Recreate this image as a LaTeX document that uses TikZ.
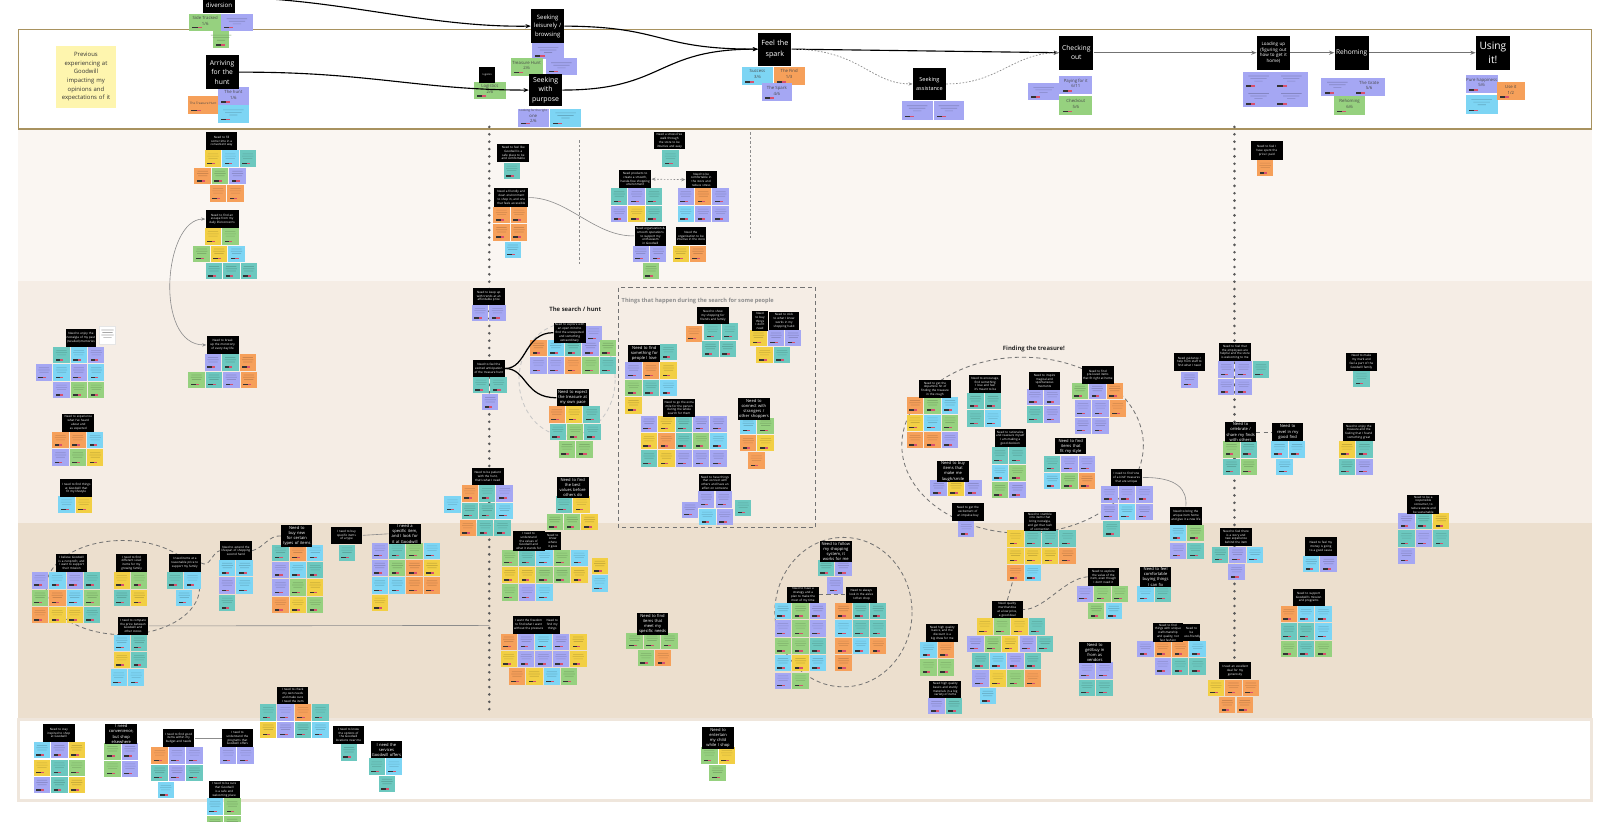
\documentclass[tikz,border=0pt]{standalone}
\usepackage{fontspec}
\setmainfont{Open Sans}
\usetikzlibrary{arrows.meta}
\pgfdeclarelayer{bg}
\pgfsetlayers{bg,main}
\definecolor{sO}{HTML}{F6A05A}
\definecolor{sY}{HTML}{F2CF44}
\definecolor{sG}{HTML}{96D17F}
\definecolor{sT}{HTML}{6CC8BF}
\definecolor{sB}{HTML}{7DD5F4}
\definecolor{sP}{HTML}{A5A7F3}
\definecolor{noteY}{HTML}{FEF5AE}
\definecolor{bandA}{HTML}{FAF6F2}
\definecolor{bandB}{HTML}{F5EDE5}
\definecolor{bandC}{HTML}{ECDFCE}
\definecolor{frameC}{HTML}{A8925F}
\definecolor{edgeC}{HTML}{EFE6DC}
\definecolor{tagR}{HTML}{D9506E}
% small sticky: x y colour-letter
\newcommand\stk[3]{%
  \fill[fill=s#3] (#1,#2) rectangle ++(16,16);
  \fill[fill=s#3!84!black] (#1+3,#2+3) rectangle ++(10,0.6) (#1+2.5,#2+5.2) rectangle ++(11,0.6) (#1+3.5,#2+7.4) rectangle ++(9,0.6);
  \fill[black!80] (#1+2.5,#2+12) rectangle ++(4.5,1.5);
  \fill[tagR] (#1+7,#2+12) rectangle ++(3,1.5);}
\newcommand\srow[3]{\foreach \scol [count=\sidx from 0] in {#3}{\stk{#1+17*\sidx}{#2}{\scol}}}
% black header box: [opts] name x1 y1 x2 y2 text
\newcommand\hbx[7][]{%
  \pgfmathsetmacro\hbw{(#5-#3)*0.5}%
  \pgfmathsetmacro\hbh{(#6-#4)*0.5}%
  \pgfmathsetmacro\hbt{(#5-#3)*0.5-1}%
  \node[hdr,minimum width=\hbw pt,minimum height=\hbh pt,text width=\hbt pt,#1] (#2) at ({(#3+#5)/2},{(#4+#6)/2}) {#7};}
% top sticky with label: name x1 y1 x2 y2 colour text
\newcommand\tst[7]{%
  \fill[fill=s#6] (#2,#3) rectangle (#4,#5);
  \fill[black!80] (#2+3,#5-4) rectangle ++(5,1.6);
  \fill[tagR] (#2+8,#5-4) rectangle ++(4,1.6);
  \node[tnote] (#1) at ({(#2+#4)/2},{(#3+#5)/2-1.5}) {#7};}
% top sticky with unreadable text
\newcommand\tsim[5]{%
  \fill[fill=s#5] (#1,#2) rectangle (#3,#4);
  \fill[fill=s#5!80!black] ({(#1+#3)/2-10},#2+4) rectangle ++(20,0.6) ({(#1+#3)/2-8},#2+6.5) rectangle ++(16,0.6) ({(#1+#3)/2-4},#2+9) rectangle ++(8,0.6);
  \fill[black!80] (#1+3,#4-4) rectangle ++(5,1.6);
  \fill[tagR] (#1+8,#4-4) rectangle ++(4,1.6);}
\begin{document}
\hyphenpenalty=10000
\exhyphenpenalty=10000
\begin{tikzpicture}[x=0.5pt,y=-0.5pt,
  hdr/.style={fill=black,text=white,inner sep=0.5pt,align=center,font=\fontsize{1.45}{1.85}\selectfont},
  hdrL/.style={font=\fontsize{2}{2.5}\selectfont},
  tnote/.style={inner sep=0pt,align=center,text=black!72,font=\fontsize{2.1}{2.8}\selectfont},
  conn/.style={draw=black,line width=0.55pt,-{Stealth[length=2.6pt,width=2pt]}},
  gconn/.style={draw=black!55,line width=0.7pt,-{Stealth[length=2.6pt,width=2pt]}},
  dotc/.style={draw=black!45,line width=0.35pt,dash pattern=on 0.8pt off 0.8pt,-{Stealth[length=2pt,width=1.6pt]}},
  fine/.style={draw=black!45,line width=0.3pt},
  dsh/.style={draw=black!55,line width=0.4pt,dash pattern=on 2pt off 1.5pt},
  bigdots/.style={draw=black!65,line width=1.4pt,line cap=round,dash pattern=on 0pt off 3.6pt},
]
\useasboundingbox (0,0) rectangle (1568,803);
\begin{pgfonlayer}{bg}
\fill[white] (0,0) rectangle (1568,803);
\fill[bandA] (18,126) rectangle (1555,275);
\fill[bandB] (18,275) rectangle (1555,511);
\fill[bandC] (18,511) rectangle (1555,703);
\draw[edgeC,line width=1.2pt] (18,703) rectangle (1555,782);
\draw[frameC,line width=0.6pt,fill=white] (18,29) rectangle (1555,126);
\draw[dsh] (999,435) ellipse [x radius=118,y radius=86];
\draw[dsh] (824,598) ellipse [x radius=67,y radius=73];
\draw[dsh] (120,574) ellipse [x radius=75,y radius=46];
\draw[dsh,draw=black!22] (554,371) ellipse [x radius=47,y radius=55];
\draw[dsh] (604,281) rectangle (797,515);
\draw[fine,dash pattern=on 1.2pt off 1pt] (566,137) -- (566,259);
\draw[fine,dash pattern=on 1.2pt off 1pt] (733,129) -- (733,233);
\draw[bigdots] (478,124) -- (478,697);
\draw[bigdots] (1206,124) -- (1206,645);
\end{pgfonlayer}

% ---------------- journey row ----------------
\node[fill=noteY,minimum width=29.5pt,minimum height=30.5pt,text width=28.5pt,inner sep=0.5pt,align=center,text=black!80,font=\fontsize{2.9}{4.2}\selectfont] (prev) at (84,75) {Previous\\experiencing at\\Goodwill\\impacting my\\opinions and\\expectations of it};

\tst{ta}{185}{14}{216}{30}{G}{Side Tracked\\1/6}
\tsim{216}{14}{247}{30}{P}
\tsim{208}{30}{224}{47}{G}
\hbx[font=\fontsize{3}{4}\selectfont]{div}{198}{-2}{230}{12.5}{diversion}

\tst{tb}{184}{94}{213}{111}{O}{\fontsize{1.5}{2}\selectfont The Treasure Hunt}
\tst{tc}{213}{85}{243}{103}{P}{The hunt\\1/6}
\tsim{213}{103}{243}{120}{B}
\hbx[font=\fontsize{3.3}{4.6}\selectfont]{arr}{201}{54}{233}{87}{Arriving\\for the\\hunt}

\tst{td}{463}{80}{494}{97}{G}{Logistics\\2/6}
\hbx[font=\fontsize{1.2}{1.5}\selectfont]{lgs}{468}{65}{484}{81}{logistics}

\tsim{520}{42}{551}{58}{P}
\tst{te}{499}{57}{530}{74}{G}{Treasure Hunt\\2/6}
\tsim{533}{57}{564}{73}{P}
\hbx[font=\fontsize{2.9}{4.1}\selectfont]{lei}{519}{9}{551}{42}{Seeking\\leisurely /\\browsing}
\tst{tf}{506}{106}{536}{124}{P}{\fontsize{1.4}{1.9}\selectfont Looking for the right\\one\\2/6}
\tsim{537}{106}{568}{124}{B}
\hbx[font=\fontsize{3.4}{4.6}\selectfont]{pur}{517}{72}{549}{104}{Seeking\\with\\purpose}

\tst{tg}{725}{65}{755}{83}{B}{Success\\3/6}
\tst{th}{756}{65}{786}{83}{O}{The Find\\1/3}
\tst{ti}{744}{81}{774}{99}{P}{The Spark\\4/6}
\hbx[font=\fontsize{3.5}{4.9}\selectfont]{spk}{741}{32}{773}{64}{Feel the\\spark}

\tsim{881}{99}{911}{117}{P}
\tsim{912}{99}{942}{117}{P}
\hbx[font=\fontsize{2.7}{4}\selectfont]{ast}{892}{66}{924}{98}{Seeking\\assistance}

\tsim{1004}{81}{1035}{98}{P}
\tst{tj}{1035}{74}{1067}{92}{P}{Paying for it\\6/11}
\tst{tk}{1035}{94}{1067}{112}{G}{Checkout\\5/6}
\hbx[font=\fontsize{3.3}{4.4}\selectfont]{chk}{1035}{35}{1068}{68}{Checking\\out}

\tsim{1214}{70}{1245}{87}{P}
\tsim{1245}{70}{1278}{87}{P}
\tsim{1214}{87}{1245}{105}{P}
\tsim{1245}{87}{1278}{105}{P}
\hbx[font=\fontsize{2.2}{2.65}\selectfont]{lod}{1228}{35}{1260}{68}{Loading up\\(figuring out\\how to get it\\home)}

\tsim{1291}{76}{1322}{94}{P}
\tst{tl}{1322}{76}{1353}{94}{P}{The Grate\\5/6}
\tst{tm}{1303}{94}{1334}{112}{G}{Rehoming\\6/6}
\hbx[font=\fontsize{3.2}{4}\selectfont]{reh}{1304}{35}{1337}{68}{Rehoming}

\tst{tn}{1432}{73}{1463}{91}{P}{Pure happiness\\5/6}
\tsim{1432}{93}{1463}{111}{B}
\tst{to}{1462}{80}{1490}{98}{O}{Use it\\1/2}
\hbx[font=\fontsize{5}{7}\selectfont]{use}{1442}{35}{1475}{68}{Using\\it!}

\draw[conn] (div.north east) .. controls (330,-1) and (420,27) .. (lei.west);
\draw[conn] (arr.east) .. controls (360,70) and (410,88) .. (pur.west);
\draw[conn] (lei.east) .. controls (650,26) and (640,48) .. (spk.west);
\draw[conn] (pur.east) .. controls (650,88) and (640,48) .. (spk.west);
\draw[conn] (spk.east) -- (chk.west);
\draw[dotc] (spk.east) .. controls (840,48) and (850,82) .. (ast.west);
\draw[dotc] (ast.east) .. controls (975,82) and (990,52) .. (chk.west);
\draw[gconn] (chk.east) -- (lod.west);
\draw[gconn] (lod.east) -- (reh.west);
\draw[gconn] (reh.east) -- (use.west);

% ---------------- band 1 ----------------
\srow{200}{147}{Y,B,T} \srow{190}{164}{O,G,P} \srow{205}{181}{O,O}
\hbx{hA}{201}{129}{232}{147}{Need to fill some time in a convenient way}
\srow{200}{223}{Y,G} \srow{189}{240}{G,Y,B} \srow{201}{257}{T,T,T}
\hbx{hB}{201}{205}{233}{223}{Need to find an escape from my daily life/concerns}
\stk{492}{159}{T}
\hbx{hC}{486}{141}{517}{158}{Need to feel like Goodwill is a safe place to be and comfortable}
\srow{482}{202}{O,O} \srow{482}{219}{O,O} \stk{493}{236}{B}
\hbx{hD}{483}{184}{516}{202}{Need a friendly and clean environment to shop in, and one that feels accessible}
\stk{647}{147}{T}
\hbx{hF}{639}{129}{669}{146}{Need a stress-free walk through the store to be intuitive and easy}
\srow{597}{184}{T,P,T} \srow{597}{201}{P,Y,T}
\hbx{hG}{605}{166}{636}{184}{Need products to create a smooth, hassle-free shopping environment}
\srow{662}{184}{P,O,P} \srow{662}{201}{B,P,P}
\hbx{hH}{670}{167}{700}{184}{Need to be comfortable in the store and reduce stress}
\srow{618}{240}{P,P} \stk{628}{257}{G}
\hbx{hI}{620}{222}{651}{239}{Need organization \& smooth operations to support my enthusiasm in Goodwill}
\srow{657}{240}{Y,O}
\hbx{hJ}{660}{222}{690}{239}{Need the organization to be intuitive in the store}
\stk{1228}{156}{O}
\hbx{hK}{1222}{138}{1253}{156}{Need to feel I have spent the price I paid}

% ---------------- band 2 ----------------
\srow{52}{339}{T,B,P} \srow{35}{356}{P,B,P,B} \srow{52}{373}{P,G,G}
\hbx{hL}{64}{321}{94}{339}{Need to enjoy the nostalgia of my past (recalled) memories}
\node[fill=white,draw=black!10,line width=0.2pt,minimum width=8pt,minimum height=8.5pt,inner sep=0pt] (wn) at (105,327.5) {};
\fill[black!35] (99,322) rectangle ++(12,0.7) (100,324.5) rectangle ++(10,0.7) (99,327) rectangle ++(12,0.7) (101,329.5) rectangle ++(8,0.7);
\srow{200}{346}{P,T,O} \srow{184}{363}{G,T,P,O}
\hbx{hM}{202}{328}{233}{346}{Need to break up the monotony of every day life}
\srow{51}{422}{O,O,B} \srow{51}{439}{P,G,Y}
\hbx{hN}{61}{404}{92}{422}{Need to experience what I've heard about and as expected}
\srow{57}{485}{B,Y}
\hbx{hO}{59}{468}{90}{486}{I need to find things at Goodwill that fit my lifestyle}
\srow{461}{298}{P,P}
\hbx{hP}{462}{281}{493}{298}{Need to keep up with trends at an affordable price}
\srow{462}{368}{T,T} \stk{471}{385}{P}
\hbx{hQ}{462}{352}{493}{368}{Need to feel the excited anticipation of the treasure hunt}
\stk{572}{318}{P} \srow{518}{332}{O,B,T,P,G} \srow{518}{349}{P,P,O,G,T}
\hbx{hR}{541}{316}{572}{334}{Need to explore with an open mind to find the unexpected and something extraordinary}
\srow{536}{397}{O,Y,T} \srow{537}{414}{T,G,T} \srow{546}{431}{G,G}
\hbx[hdrL]{hS}{544}{380}{575}{397}{Need to expect the treasure at my own pace}
\srow{451}{474}{O,T,P} \stk{434}{485}{B} \srow{451}{491}{T,T,B} \srow{449}{508}{O,T,T}
\hbx{hT}{461}{457}{492}{474}{Need to be patient with the hunt, that's what I need}
\srow{543}{485}{T,Y} \srow{534}{502}{G,G,Y}
\hbx[hdrL]{hU}{544}{468}{575}{485}{Need to find the best values before others do}
\stk{670}{318}{O} \srow{688}{316}{T,T} \srow{686}{333}{T,T}
\hbx{hV}{681}{300}{712}{317}{Need to show my shopping for friends and family}
\srow{733}{322}{Y,P,P} \srow{739}{339}{Y,T}
\hbx{hWa}{735}{305}{750}{322}{Need to buy things I don't need}
\hbx{hWb}{751}{305}{781}{322}{Need to stick to what I know works in my shopping habit}
\stk{645}{336}{T} \srow{611}{354}{P,O,Y} \srow{611}{371}{G,T,B} \stk{611}{388}{Y}
\hbx[hdrL]{hX}{614}{337}{645}{354}{Need to find something for people I love}
\srow{626}{406}{P,Y,T,P,P} \srow{626}{423}{Y,O,T,G,B} \srow{626}{440}{T,Y,P,P,P}
\hbx{hY}{648}{390}{679}{407}{Need to go the extra mile for the person during the whole search for them}
\srow{723}{408}{B,G} \srow{723}{425}{O,Y} \stk{731}{442}{O}
\hbx[hdrL]{hZ}{721}{391}{752}{408}{Need to connect with strangers / other shoppers}
\stk{666}{490}{P} \srow{682}{480}{P,P} \stk{718}{488}{T} \srow{683}{497}{B,P}
\hbx{hAA}{683}{463}{714}{480}{Need to have things that connect with others and have an effect on someone}

\srow{886}{388}{O,G,B} \srow{886}{405}{Y,B,G} \srow{886}{422}{O,O,P}
\hbx{hBB}{898}{371}{929}{389}{Need to get the dopamine hit of finding the treasure in the rough}
\srow{945}{384}{T,T} \srow{945}{401}{T,B}
\hbx{hCC}{947}{366}{978}{384}{Need to encourage, find something I love and feel it's meant to be}
\srow{1003}{380}{P,P} \srow{1003}{397}{T,P}
\hbx{hDD}{1005}{363}{1036}{381}{Need to inspire magical and spontaneous moments}
\srow{1047}{374}{G,P,O} \srow{1050}{391}{P,P,O} \srow{1050}{408}{P,P}
\hbx{hEE}{1057}{358}{1088}{375}{Need to find pre-loved items that fit right at home}
\srow{969}{437}{T,T} \srow{969}{454}{B,G} \srow{969}{471}{G,P}
\hbx{hFF}{972}{419}{1002}{437}{Need to rationalize and reassure myself I am making a good decision}
\srow{1020}{445}{T,P,P} \srow{1020}{462}{B,G,O}
\hbx[hdrL]{hGG}{1031}{428}{1061}{444}{Need to find items that fit my style}
\srow{909}{469}{P,Y,P}
\hbx[hdrL]{hHH}{915}{452}{947}{469}{Need to buy items that make me laugh/smile}
\stk{936}{509}{P}
\hbx{hII}{930}{491}{961}{509}{Need to get the excitement of an impulse buy}
\srow{1076}{475}{P,P,P} \srow{1076}{492}{P,B,P} \stk{1078}{509}{T}
\hbx{hJJ}{1085}{458}{1116}{475}{I need to find `one of a kind' treasures that are unique}
\stk{1154}{363}{P}
\hbx{hUU}{1147}{345}{1177}{362}{Need guidance / help from staff to find what I need}
\srow{1190}{353}{P,P,T} \srow{1190}{370}{P,P}
\hbx{hVV}{1191}{335}{1222}{353}{Need to feel that the employees are helpful and the store is welcoming to me}
\stk{1322}{362}{T}
\hbx{hWW}{1315}{345}{1345}{362}{Need to make my mark and feel a part of the Goodwill family}
\srow{1195}{431}{G,T} \srow{1195}{448}{T,G}
\hbx[hdrL]{hXX}{1197}{413}{1227}{431}{Need to celebrate / share my finds with others}
\srow{1242}{431}{B,B} \stk{1247}{448}{B}
\hbx[hdrL]{hYY}{1243}{413}{1273}{431}{Need to revel in my good find}
\srow{1308}{431}{Y,T} \srow{1308}{448}{T,P}
\hbx{hZZ}{1312}{413}{1343}{431}{Need to enjoy the treasure and the feeling that I found something great}
\srow{1366}{501}{P,T,Y} \srow{1366}{518}{T,P,T} \stk{1366}{535}{P}
\hbx{hAB}{1375}{485}{1406}{501}{Need to be a responsible consumer, to reduce waste and be sustainable}

% ---------------- band 3 ----------------
\srow{984}{518}{Y,T,T,T} \srow{984}{535}{Y,Y,Y,O} \srow{984}{552}{O,B}
\hbx{hKK}{1000}{501}{1032}{518}{Need to stumble into items that bring nostalgia, and get that rush of connection}
\srow{1143}{513}{B,G} \srow{1143}{530}{P,T}
\hbx{hLL}{1143}{495}{1174}{513}{Need to bring the unique item home and give it a new life}
\srow{1184}{534}{T,P,B} \stk{1200}{551}{P}
\hbx{hMM}{1192}{516}{1223}{533}{Need to feel there is a story and new experience behind the item}
\srow{1052}{572}{P,G,G} \srow{1063}{589}{G,B}
\hbx{hNN}{1063}{555}{1093}{572}{Need to explore the value of the item, even though I don't need it}
\srow{1111}{572}{B,T}
\hbx[hdrL]{hNNb}{1114}{555}{1144}{572}{Need to feel comfortable buying things I can fix}
\srow{954}{604}{Y,G,Y,T} \srow{945}{621}{P,G,Y,P,T} \srow{950}{638}{T,B,P,T} \srow{950}{655}{P,Y,G,O} \stk{957}{672}{B}
\hbx{hOO}{969}{587}{999}{604}{Need quality merchandise at a low price, a good deal}
\srow{899}{627}{B,O} \srow{899}{644}{G,G}
\hbx{hPP}{905}{610}{936}{627}{Need high quality basics, and the discount is a big draw for me}
\srow{907}{682}{P,T}
\hbx{hQQ}{908}{665}{939}{682}{Need high quality basics and sturdy materials in a big variety of items}
\srow{1054}{647}{P,P} \srow{1054}{664}{T,T}
\hbx[hdrL]{hRR}{1054}{628}{1085}{647}{Need to get/buy in from as vendors}
\srow{1111}{626}{P,O,O,B} \srow{1128}{643}{P,T,T}
\hbx{hSS}{1126}{610}{1156}{626}{Need to find things with unique craftsmanship and quality, not fast fashion}
\hbx{hSSb}{1156}{610}{1172}{626}{Need to be eco-friendly}
\srow{1180}{664}{Y,O,O} \srow{1191}{681}{O,O}
\hbx{hTT}{1191}{647}{1222}{663}{I need an excellent deal for my generosity}
\srow{1273}{543}{B,P}
\hbx{hAC}{1275}{525}{1306}{543}{Need to feel my money is going to a good cause}
\srow{1251}{592}{O,B,B} \srow{1251}{609}{T,T,B} \srow{1251}{626}{G,T,G}
\hbx{hAD}{1263}{575}{1294}{592}{Need to support Goodwill's mission and programs}

\srow{31}{559}{P,B,P,T} \srow{31}{576}{G,O,B,G} \srow{31}{593}{O,Y,Y,T}
\hbx{hBA}{55}{541}{85}{559}{I believe Goodwill is a nonprofit, and I want to support their mission}
\srow{111}{559}{Y,G} \srow{111}{576}{T,Y}
\hbx{hBBb}{113}{541}{144}{559}{I need to find different sized items for my growing family}
\srow{163}{559}{T,B} \stk{172}{576}{B}
\hbx{hBC}{165}{541}{196}{559}{I need items at a reasonable price to support my family}
\srow{214}{547}{B,B} \srow{214}{564}{P,B} \stk{214}{581}{T}
\hbx{hBD}{215}{529}{246}{547}{Need to extend the lifespan of shopping second hand}
\srow{266}{532}{T,O,B} \srow{266}{549}{P,B,T} \srow{266}{566}{P,G,Y} \srow{266}{583}{O,Y,G}
\hbx[hdrL]{hBE}{275}{515}{305}{532}{Need to buy new for certain types of items}
\stk{331}{532}{T}
\hbx{hBF}{323}{515}{354}{531}{I need to buy specific items of a type}
\srow{363}{530}{P,T,G,B} \srow{363}{547}{P,G,O,Y} \srow{363}{564}{B,B,O,O} \stk{363}{581}{Y}
\hbx[hdrL]{hBG}{380}{513}{411}{530}{I need a specific item, and I look for it at Goodwill}
\srow{111}{620}{B,T} \srow{111}{637}{Y,T} \srow{108}{654}{B,B}
\hbx{hBH}{115}{603}{145}{620}{I need to compare the price between Goodwill and other stores}
\srow{254}{688}{T,P,O,T} \srow{254}{705}{Y,P,T,B}
\hbx{hBI}{271}{671}{301}{688}{I need to check my own needs and make sure I need the item}
\srow{490}{537}{G,T,B,G,B} \stk{578}{545}{Y} \srow{490}{554}{Y,Y,G,G,Y} \stk{578}{562}{B} \srow{490}{571}{G,P,B}
\hbx{hDAa}{501}{520}{532}{537}{I need to understand the values of Goodwill and what it stands for}
\hbx{hDAb}{532}{520}{548}{537}{Need to know where it goes}
\srow{489}{619}{O,P,B,P,Y} \srow{489}{636}{Y,P,P,P,Y} \srow{497}{653}{O,Y,B,G}
\hbx{hDBa}{501}{602}{532}{619}{I want the freedom to find what I want without the pressure}
\hbx{hDBb}{532}{602}{547}{619}{Need to find my things}
\srow{612}{618}{G,G,G} \srow{623}{635}{G,O}
\hbx[hdrL]{hDC}{622}{601}{653}{618}{Need to find items that meet my specific needs}
\srow{799}{547}{T,P} \stk{808}{564}{P}
\hbx[hdrL]{hSys}{801}{530}{832}{547}{Need to follow my shopping system, it works for me}
\srow{757}{589}{B,G,P} \srow{757}{606}{P,G,P} \srow{757}{623}{G,G,T} \srow{757}{640}{B,Y,B} \srow{757}{657}{P,G}
\hbx{hDE}{769}{573}{800}{589}{Need to have a strategy and a plan to make the most of my time}
\srow{816}{589}{O,T,T} \srow{816}{606}{B,T,T} \srow{816}{623}{O,B,O} \stk{816}{640}{O}
\hbx{hDF}{826}{573}{857}{589}{Need to always look in the aisles I often shop}

% ---------------- band 4 ----------------
\srow{33}{725}{B,P,Y} \srow{33}{742}{Y,T,G} \srow{33}{759}{P,T,Y}
\hbx{hCA}{42}{707}{73}{725}{Need to stay inspired to shop at Goodwill}
\srow{102}{726}{G,P} \srow{102}{743}{G,P}
\hbx[hdrL]{hCB}{103}{708}{134}{726}{I need convenience, but shop elsewhere}
\srow{148}{730}{O,P,P} \srow{148}{747}{T,P,T} \stk{154}{764}{B}
\hbx{hCCb}{159}{712}{190}{730}{I need to find good items within my budget and needs}
\srow{215}{730}{P,P}
\hbx{hCD}{217}{712}{247}{730}{I need to understand the programs that Goodwill offers}
\srow{202}{780}{B,G} \srow{202}{797}{G,G}
\hbx{hCE}{204}{763}{234}{780}{I need to be sure that Goodwill is a safe and welcoming place}
\stk{333}{727}{T}
\hbx{hCF}{325}{709}{356}{727}{I need to know the options of the Goodwill locations near me}
\srow{360}{741}{T,B} \stk{370}{758}{T}
\hbx[hdrL]{hCG}{362}{724}{393}{741}{I need the services Goodwill offers}
\srow{685}{730}{G,Y} \stk{693}{747}{G}
\hbx[hdrL]{hDG}{686}{712}{717}{730}{Need to entertain my child while I shop}

% ---------------- labels ----------------
\node[font=\bfseries\fontsize{2.9}{3.4}\selectfont,text=black!85] (lblsearch) at (562,302) {The search / hunt};
\node[font=\bfseries\fontsize{2.9}{3.4}\selectfont,text=black!85] (lbltreasure) at (1010,341) {Finding the treasure!};
\node[anchor=west,inner sep=0pt,text=black!45,font=\bfseries\fontsize{2.75}{3.2}\selectfont] (lblthings) at (607,294) {Things that happen during the search for some people};

% ---------------- connectors ----------------
\coordinate (kkb) at (989,569);
\coordinate (dl3) at (478,611);
\draw[fine,{Stealth[length=2pt,width=1.6pt]}-{Stealth[length=2pt,width=1.6pt]}] (hB.west) .. controls (160,214) and (150,337) .. (hM.west);
\draw[fine] (hD.east) .. controls (555,193) and (580,231) .. (hI.west);
\draw[fine,dash pattern=on 0.8pt off 0.8pt,{Stealth[length=2pt,width=1.6pt]}-{Stealth[length=2pt,width=1.6pt]}] (hG.east) -- (hH.west);
\draw[line width=0.6pt] (hQ.east) .. controls (515,360) and (512,325) .. (hR.west);
\draw[line width=0.6pt] (hQ.east) .. controls (515,360) and (512,389) .. (hS.west);
\draw[fine] (hJJ.east) .. controls (1150,466) and (1160,478) .. (hLL.north);
\draw[dsh] (hNN.west) .. controls (1040,565) and (1020,596) .. (hOO.east);
\draw[dsh] (kkb) -- (hOO.north);
\draw[dsh] (hBC.east) .. controls (205,555) and (207,540) .. (hBD.west);
\draw[dsh] (hBD.east) .. controls (258,535) and (262,523) .. (hBE.west);
\draw[fine] (hBF.east) -- (hBG.west);
\draw[fine] (hBH.east) -- (dl3);
\draw[fine] (hCCb.east) -- (hCD.west);
\draw[dsh] (hDE.east) -- (hDF.west);
\draw[dsh] (hXX.east) -- (hYY.west);
\end{tikzpicture}
\end{document}
